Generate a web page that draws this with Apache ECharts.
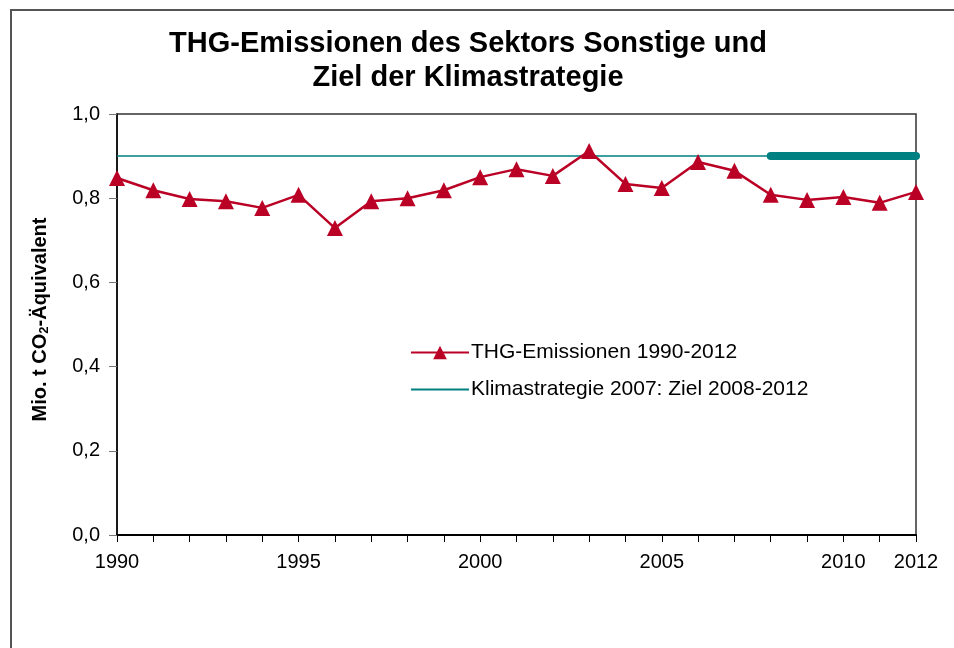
<!DOCTYPE html>
<html>
<head>
<meta charset="utf-8">
<script src="https://cdn.jsdelivr.net/npm/echarts@6/dist/echarts.min.js"></script>
<style>
    html, body { margin: 0; padding: 0; background: #fff; }
    #chart { width: 954px; height: 648px; }
</style>
</head>
<body>
<div id="chart"></div>
<script>
// data
const years = [1990, 1991, 1992, 1993, 1994, 1995, 1996, 1997, 1998, 1999, 2000,
    2001, 2002, 2003, 2004, 2005, 2006, 2007, 2008, 2009, 2010, 2011, 2012];
const emissions = [0.848, 0.819, 0.798, 0.793, 0.777, 0.808, 0.729, 0.793, 0.800, 0.819, 0.850,
    0.869, 0.853, 0.912, 0.834, 0.824, 0.886, 0.865, 0.808, 0.796, 0.803, 0.789, 0.815];
const targetValue = 0.9;
const targetYears = [2008, 2012];
const xLabelYears = [1990, 1995, 2000, 2005, 2010, 2012];
const seriesNames = ['THG-Emissionen 1990-2012', 'Klimastrategie 2007: Ziel 2008-2012'];

const RED = '#BA0025';
const TEAL = '#008080';
const FONT = '"Liberation Sans", Arial, sans-serif';

let chart = echarts.init(document.getElementById('chart'));
chart.setOption({
    animation: false,
    backgroundColor: '#fff',
    textStyle: { fontFamily: FONT },
    title: {
        text: 'THG-Emissionen des Sektors Sonstige und\nZiel der Klimastrategie',
        left: 463,
        top: 22,
        textAlign: 'center',
        textStyle: { fontSize: 29, fontWeight: 'bold', color: '#000', lineHeight: 34, fontFamily: FONT },
    },
    graphic: [
        {
            type: 'rect',
            shape: { x: 11, y: 10, width: 1000, height: 700 },
            style: { fill: 'none', stroke: '#555', lineWidth: 2 },
            silent: true,
        },
    ],
    legend: {
        orient: 'vertical',
        left: 410,
        top: 342,
        padding: 0,
        itemGap: 16,
        itemWidth: 58,
        itemHeight: 17,
        data: [
            { name: seriesNames[0] },
            { name: seriesNames[1], itemStyle: { color: 'rgba(0,0,0,0)', borderWidth: 0 } },
        ],
        textStyle: { fontSize: 21, color: '#000', fontFamily: FONT, padding: [0, 0, 0, -3] },
    },
    grid: {
        left: 117,
        right: 38,
        top: 114,
        bottom: 113,
        show: true,
        borderColor: '#333',
        borderWidth: 1.5,
    },
    xAxis: {
        type: 'value',
        min: 1990,
        max: 2012,
        interval: 1,
        axisLine: { lineStyle: { color: '#000', width: 2 } },
        axisTick: { show: true, inside: false, length: 7, lineStyle: { color: '#000', width: 1 } },
        splitLine: { show: false },
        axisLabel: {
            fontSize: 20,
            color: '#000',
            margin: 17,
            formatter: function (v) {
                return xLabelYears.indexOf(v) >= 0 ? String(v) : '';
            },
        },
    },
    yAxis: {
        type: 'value',
        min: 0,
        max: 1,
        interval: 0.2,
        name: 'Mio. t CO{sub|2}-Äquivalent',
        nameLocation: 'middle',
        nameGap: 66,
        nameTextStyle: {
            fontSize: 20, fontWeight: 'bold', color: '#000', fontFamily: FONT,
            padding: [0, 0, 0, 10],
            rich: {
                sub: { fontSize: 13, fontWeight: 'bold', color: '#000', fontFamily: FONT, verticalAlign: 'bottom', padding: [8, 0, 0, 0] },
            },
        },
        axisLine: { show: true, lineStyle: { color: '#000', width: 1.5 } },
        axisTick: { show: true, length: 8, lineStyle: { color: '#777' } },
        splitLine: { show: false },
        axisLabel: {
            fontSize: 20,
            color: '#000',
            margin: 17,
            formatter: function (v) {
                return v.toFixed(1).replace('.', ',');
            },
        },
    },
    series: [
        {
            name: seriesNames[1],
            type: 'line',
            data: years.map(function (y) { return [y, targetValue]; }),
            symbol: 'none',
            lineStyle: { color: TEAL, width: 1.5 },
            itemStyle: { color: TEAL },
            z: 2,
        },
        {
            name: 'target-thick',
            type: 'line',
            data: targetYears.map(function (y) { return [y, targetValue]; }),
            symbol: 'none',
            lineStyle: { color: TEAL, width: 8, cap: 'round' },
            z: 3,
        },
        {
            name: seriesNames[0],
            type: 'line',
            data: years.map(function (y, i) { return [y, emissions[i]]; }),
            symbol: 'triangle',
            symbolSize: 16,
            lineStyle: { color: RED, width: 2.5 },
            itemStyle: { color: RED },
            z: 4,
        },
    ],
});
</script>
</body>
</html>
